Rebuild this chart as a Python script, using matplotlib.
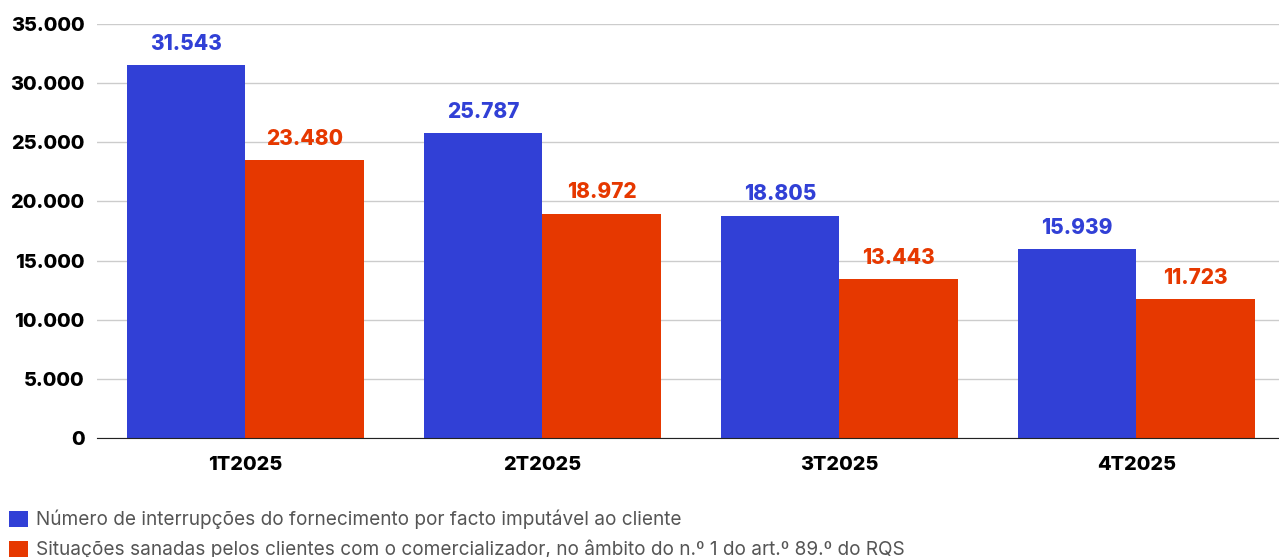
import matplotlib.pyplot as plt
import numpy as np

plt.rcParams['font.family'] = ['Inter', 'DejaVu Sans']

# data
quarters = ['1T2025', '2T2025', '3T2025', '4T2025']
interrupcoes = [31543, 25787, 18805, 15939]
sanadas = [23480, 18972, 13443, 11723]
labels = ['Número de interrupções do fornecimento por facto imputável ao cliente',
          'Situações sanadas pelos clientes com o comercializador, no âmbito do n.º 1 do art.º 89.º do RQS']
yticks = [0, 5000, 10000, 15000, 20000, 25000, 30000, 35000]

blue = '#3140D6'
red = '#E63800'

def fmt(v):
    return f'{v:,}'.replace(',', '.')

fig = plt.figure(figsize=(12.79, 5.57), dpi=100)
ax = fig.add_axes([0.0758, 0.2136, 0.9242, 0.7433])

x = np.arange(len(quarters))
w = 0.4
b1 = ax.bar(x - w / 2, interrupcoes, w, color=blue, label=labels[0], zorder=3)
b2 = ax.bar(x + w / 2, sanadas, w, color=red, label=labels[1], zorder=3)

for bars, vals, c in [(b1, interrupcoes, blue), (b2, sanadas, red)]:
    for r, v in zip(bars, vals):
        ax.annotate(fmt(v), (r.get_x() + r.get_width() / 2, v), xytext=(0, 8),
                    textcoords='offset points', ha='center', va='bottom',
                    color=c, fontsize=15, fontweight='heavy')

ax.set_xlim(-0.5, 3.48)
ax.set_ylim(0, 35000)
ax.set_yticks(yticks)
ax.set_yticklabels([fmt(t) for t in yticks])
ax.set_xticks(x)
ax.set_xticklabels(quarters)
ax.tick_params(axis='both', length=0, labelsize=14.3, labelcolor='black')
ax.tick_params(axis='y', pad=9)
ax.tick_params(axis='x', pad=13)
for lab in ax.get_xticklabels() + ax.get_yticklabels():
    lab.set_fontweight('heavy')

ax.grid(axis='y', color='#cccccc', linewidth=1, zorder=0)
for s in ['top', 'right', 'left']:
    ax.spines[s].set_visible(False)
ax.spines['bottom'].set_color('#222222')
ax.spines['bottom'].set_zorder(4)

fig.legend(loc='lower left', bbox_to_anchor=(-0.003, -0.028), frameon=False,
           fontsize=13.7, handlelength=0.95, handleheight=0.95, handletextpad=0.45,
           labelspacing=0.55, labelcolor='#555555', borderaxespad=0.3)

fig.savefig('out.png', dpi=100)
